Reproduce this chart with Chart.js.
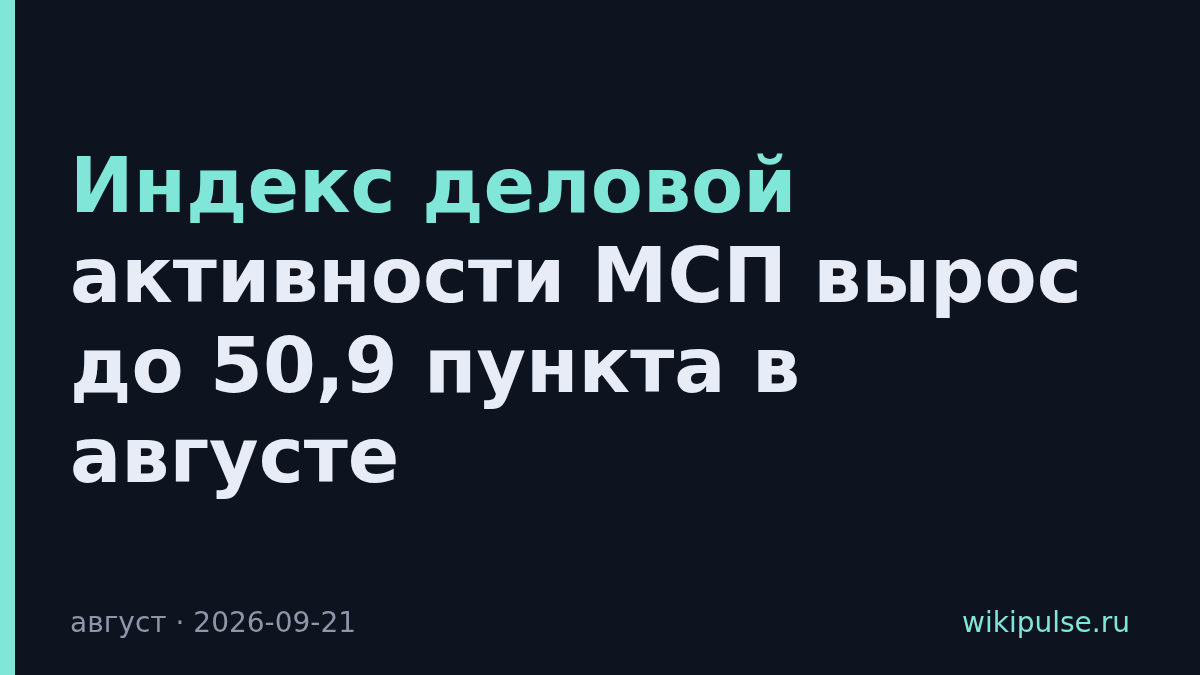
<!DOCTYPE html>
<html><head><meta charset="utf-8">
<script src="https://cdn.jsdelivr.net/npm/chart.js@4.4.1/dist/chart.umd.min.js"></script>
<style>
html,body{margin:0;padding:0;width:1200px;height:675px;background:#0e141f;overflow:hidden;font-family:"DejaVu Sans",sans-serif;}
#bar{position:absolute;left:0;top:0;width:15px;height:675px;background:#7fe6d8;}
#title{position:absolute;left:70px;top:141px;width:1080px;font-weight:bold;font-size:76px;line-height:90px;color:#e8ecf6;letter-spacing:0px;}
#title .hl{color:#7fe6d8;}
#date{position:absolute;left:70px;top:605px;font-size:28px;line-height:36px;color:#8e96a8;}
#site{position:absolute;right:70px;top:605px;font-size:28px;line-height:36px;color:#7fe6d8;}
#c{position:absolute;left:0;top:0;}
</style></head><body>
<canvas id="c" width="1200" height="675"></canvas>
<div id="bar"></div>
<div id="title"></div>
<div id="date"></div>
<div id="site"></div>
<script>
const titleHighlight = ["Индекс деловой"];
const titleRest = ["активности МСП вырос", "до 50,9 пункта в", "августе"];
const footerLeft = ["август", "2026-09-21"];
const footerRight = ["wikipulse.ru"];

const t = document.getElementById('title');
const hl = document.createElement('div'); hl.className='hl'; hl.textContent = titleHighlight[0]; t.appendChild(hl);
titleRest.forEach(s=>{const d=document.createElement('div'); d.textContent=s; t.appendChild(d);});
document.getElementById('date').textContent = footerLeft.join(' · ');
document.getElementById('site').textContent = footerRight[0];

new Chart(document.getElementById('c'), {
  type: 'bar',
  data: { labels: [], datasets: [] },
  options: { responsive:false, animation:false,
    plugins:{legend:{display:false},tooltip:{enabled:false}},
    scales:{x:{display:false},y:{display:false}} }
});
</script>
</body></html>
